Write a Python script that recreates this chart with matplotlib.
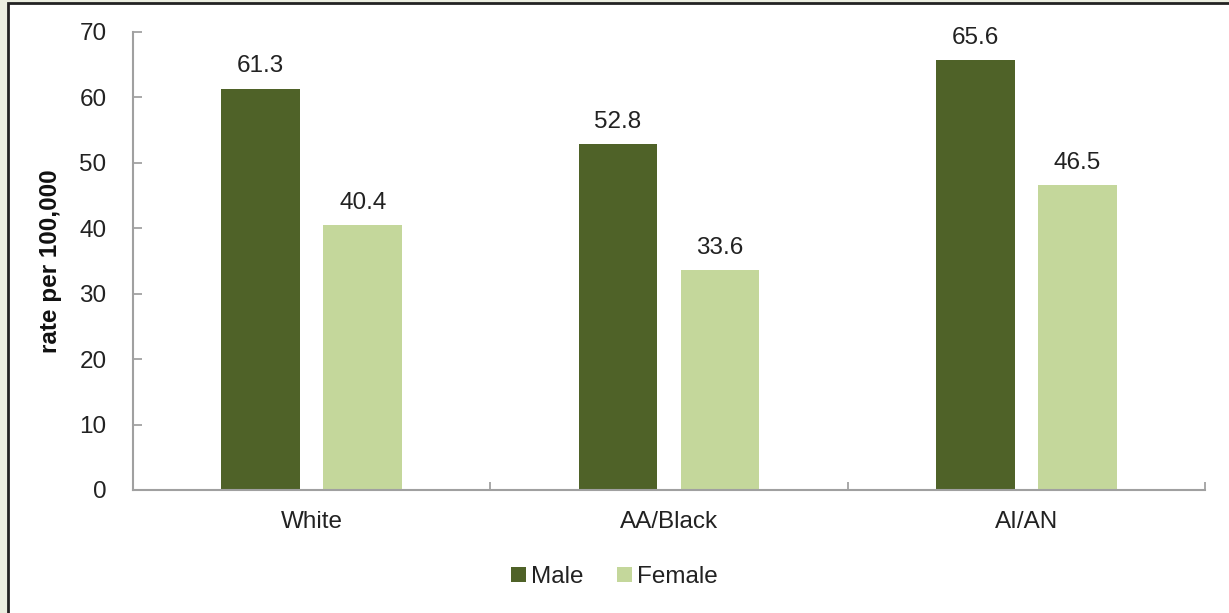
import numpy as np
import matplotlib.pyplot as plt
from matplotlib.patches import Rectangle

categories = ["White", "AA/Black", "AI/AN"]
male = [61.3, 52.8, 65.6]
female = [40.4, 33.6, 46.5]

plt.rcParams['font.family'] = ['Liberation Sans', 'DejaVu Sans']
fs = 17.5

fig = plt.figure(figsize=(12.29, 6.13), dpi=100)
fig.patch.set_facecolor('#ebeee0')
# white panel with dark border (only left/top edges visible)
fig.patches.append(Rectangle((8 / 1229, -0.05), 1.1, 1 - 3 / 613 + 0.05,
                             transform=fig.transFigure, facecolor='white',
                             edgecolor='#222222', linewidth=2, zorder=-10))

ax = fig.add_axes([133 / 1229, 1 - 490 / 613, (1205 - 133) / 1229, (490 - 31.6) / 613])
ax.set_facecolor('none')

x = np.arange(len(categories)) + 0.5
w = 0.22
off = 0.143
b1 = ax.bar(x - off, male, w, color='#4f6228', label='Male')
b2 = ax.bar(x + off, female, w, color='#c4d79b', label='Female')

for bars, vals in [(b1, male), (b2, female)]:
    for r, v in zip(bars, vals):
        ax.annotate(f"{v:.1f}", (r.get_x() + r.get_width() / 2, v),
                    xytext=(0, 8), textcoords='offset points',
                    ha='center', va='bottom', fontsize=fs, color='#222222')

ax.set_xlim(0, 3)
ax.set_ylim(0, 70)
ax.set_yticks(range(0, 71, 10))
ax.set_xticks([0, 1, 2, 3])
ax.set_xticklabels([])
ax.set_xticks(x, minor=True)
ax.set_xticklabels(categories, minor=True)
ax.tick_params(axis='x', which='minor', length=0, pad=15, labelsize=fs, labelcolor='#222222')
ax.tick_params(axis='x', which='major', direction='in', length=6, color='#999999', width=1.2)
ax.tick_params(axis='y', direction='in', length=6.5, color='#999999', width=1.2,
               labelsize=fs, labelcolor='#222222', pad=19)

for s in ['top', 'right']:
    ax.spines[s].set_visible(False)
for s in ['left', 'bottom']:
    ax.spines[s].set_color('#a0a0a0')
    ax.spines[s].set_linewidth(1.5)

ax.set_ylabel("rate per 100,000", fontsize=fs, fontweight='bold', color='#111111')
ax.yaxis.set_label_coords(-0.066, 0.5)

fig.legend(loc='center', bbox_to_anchor=(0.5, 1 - 577 / 613), ncol=2, frameon=False,
           fontsize=fs, handlelength=0.6, handleheight=0.6, handletextpad=0.2,
           columnspacing=1.4, labelcolor='#222222')

fig.savefig('out.png', dpi=100, facecolor=fig.get_facecolor())
